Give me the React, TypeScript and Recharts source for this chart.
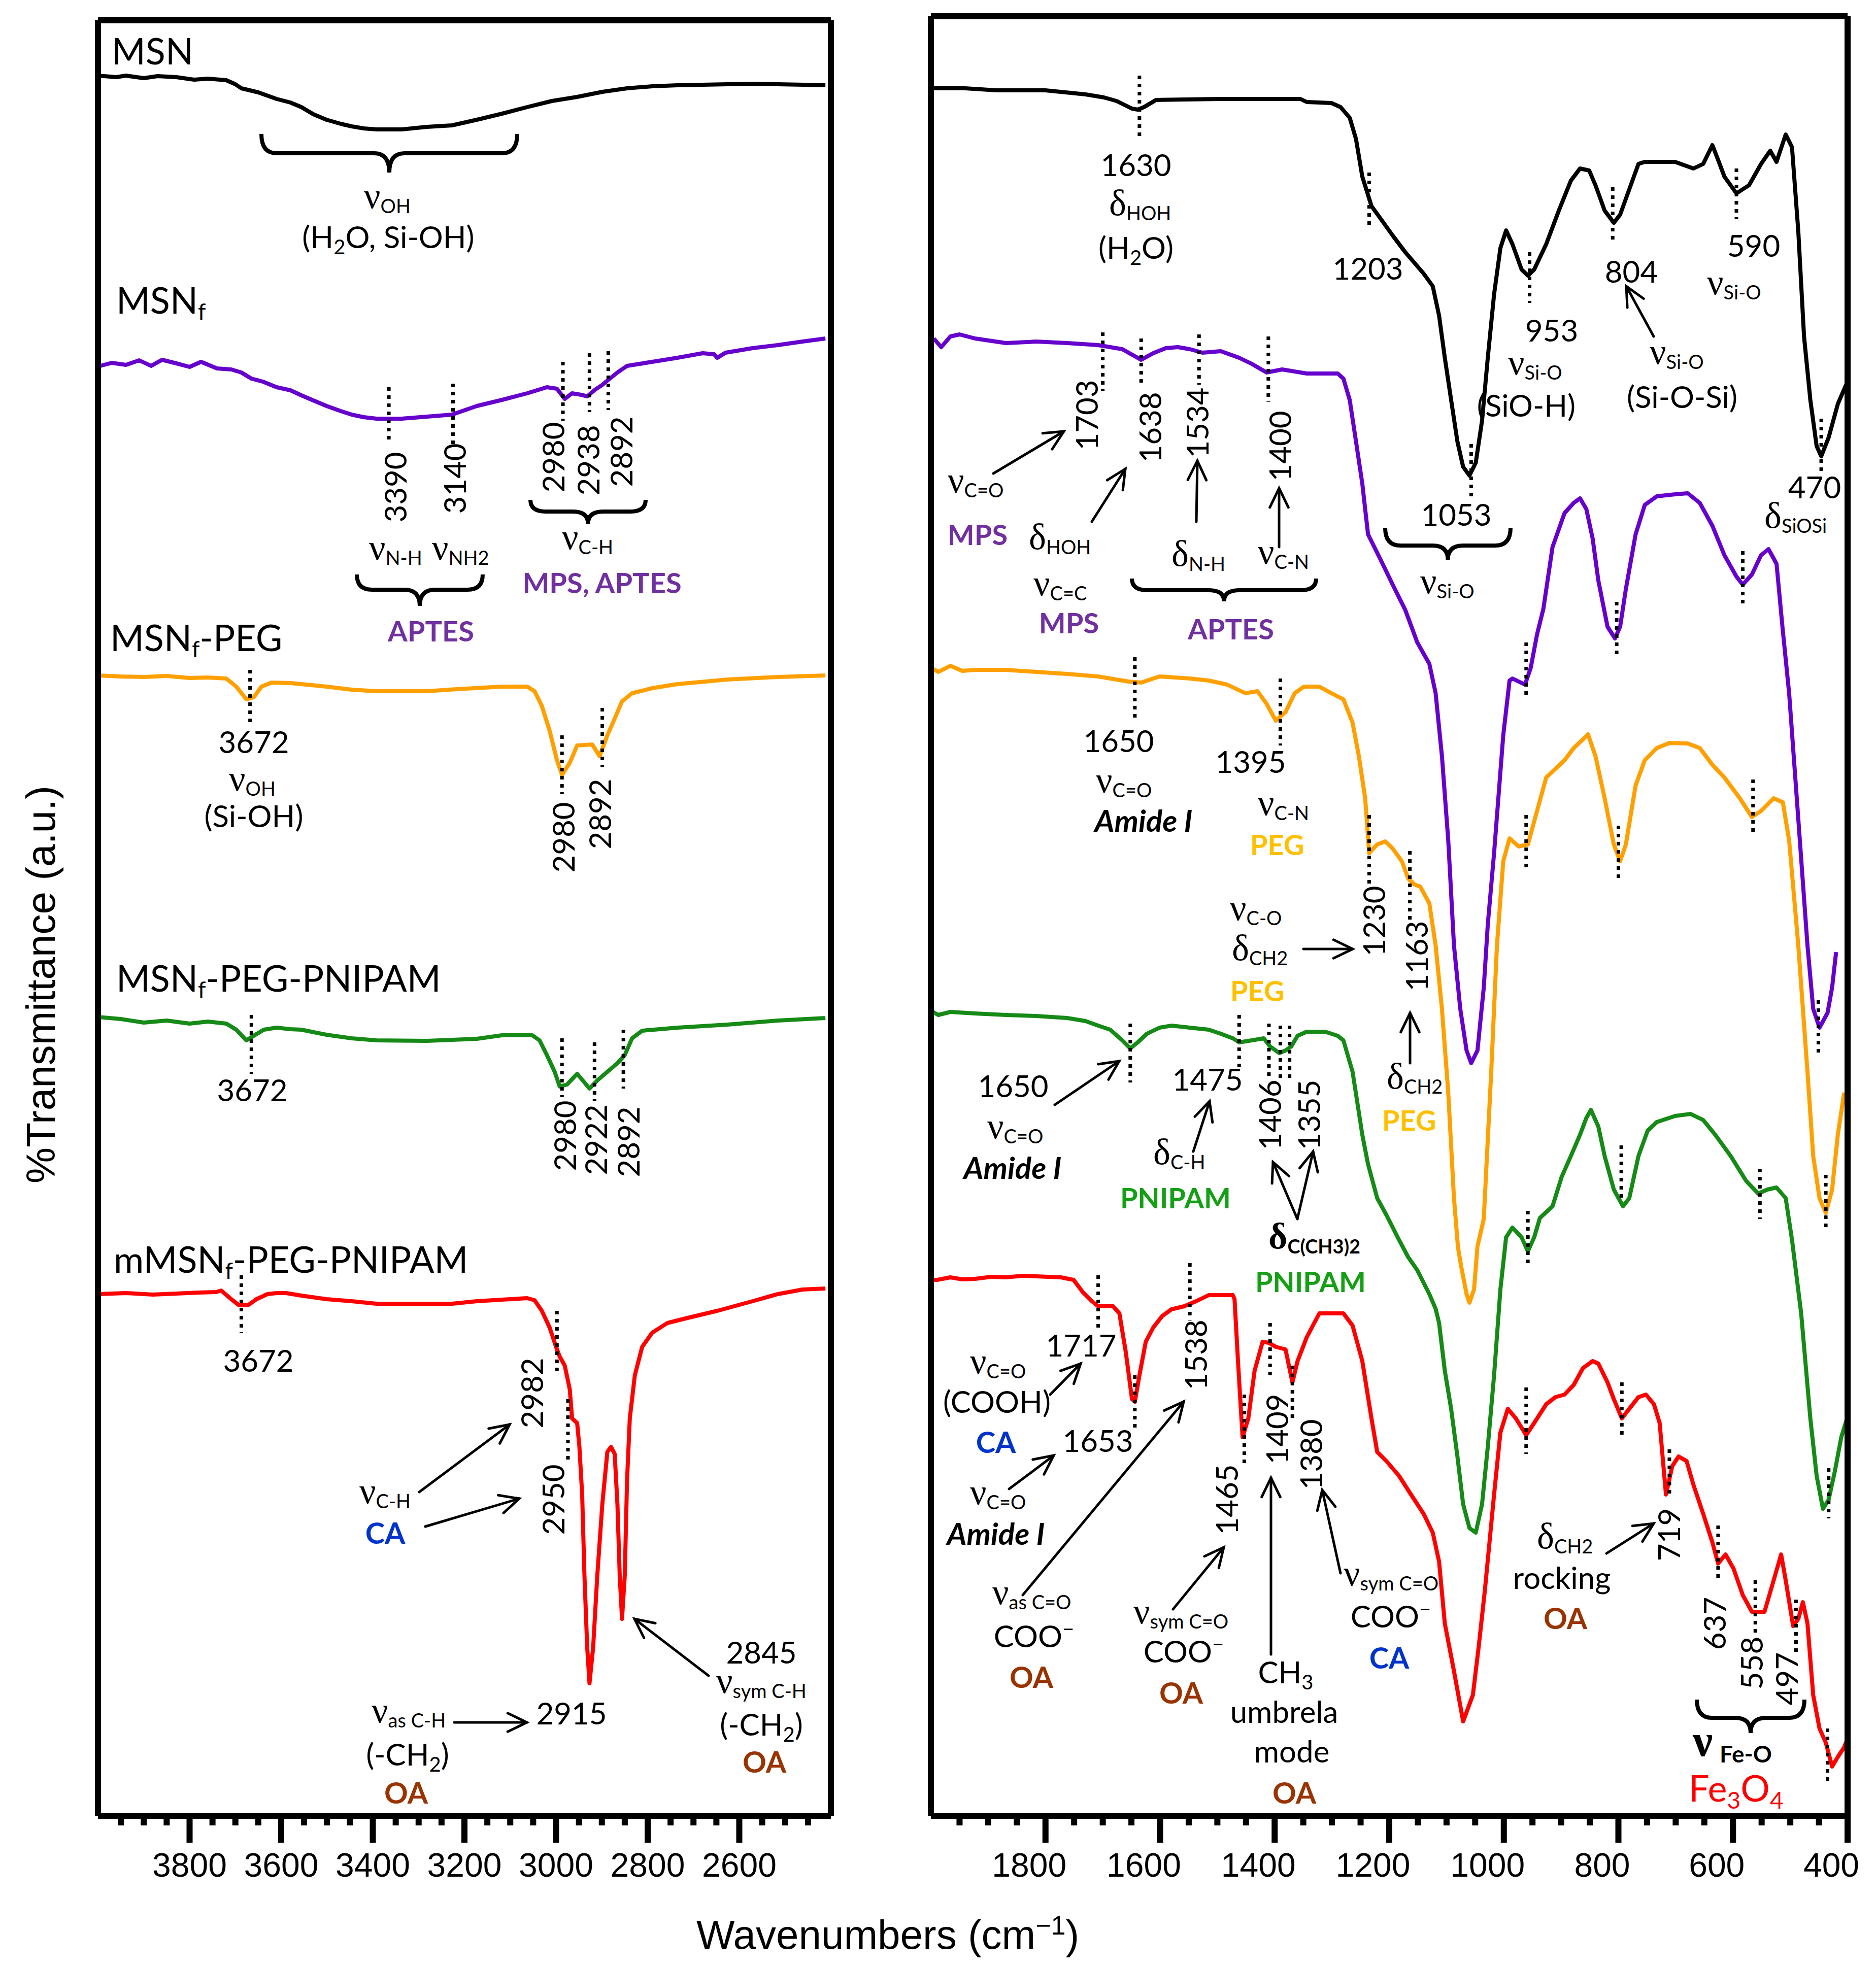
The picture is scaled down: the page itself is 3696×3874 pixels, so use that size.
import React from "react";
import { LineChart, Line, XAxis, YAxis, ReferenceLine } from "recharts";

const SANS = "Lato, 'Open Sans', sans-serif";
const ARIAL = "'Liberation Sans', Arial, sans-serif";
const SERIF = "'Liberation Serif', 'DejaVu Serif', serif";

// spectra, [wavenumber, %T in arbitrary offset units]
// high wavenumber panel
const msnHi = [[4000,342.9],[3960,342.6],[3939,342.9],[3900,342.4],[3870,342.8],[3829,342.6],[3790,342.1],[3760,342.3],[3720,342.0],[3700,341.2],[3687,340.4],[3650,339.6],[3610,338.3],[3580,337.6],[3556,336.7],[3530,335.3],[3501,334.2],[3470,333.4],[3446,332.9],[3420,332.5],[3392,332.3],[3337,332.3],[3282,332.8],[3227,333.1],[3173,334.2],[3118,335.4],[3063,336.7],[3009,337.9],[2954,338.7],[2899,339.7],[2845,340.4],[2790,340.8],[2735,341.0],[2680,341.1],[2626,341.2],[2570,341.3],[2516,341.2],[2460,341.1],[2412,341.0]];
const msnfHi = [[3995,285.7],[3970,286.3],[3939,285.9],[3910,286.8],[3884,285.7],[3860,286.9],[3829,286.2],[3800,285.5],[3775,286.5],[3740,285.2],[3709,285.0],[3687,284.4],[3665,283.2],[3640,282.6],[3610,281.5],[3580,280.9],[3556,279.9],[3530,278.9],[3501,277.8],[3470,276.8],[3446,276.1],[3420,275.6],[3392,275.3],[3337,275.3],[3282,275.7],[3227,276.1],[3173,277.8],[3118,279.0],[3063,280.3],[3020,281.5],[2998,281.2],[2981,279.2],[2965,280.3],[2945,280.0],[2932,279.7],[2915,281.0],[2900,281.9],[2888,282.8],[2866,284.4],[2845,285.7],[2790,286.5],[2735,287.3],[2680,288.2],[2655,288.0],[2648,287.3],[2630,288.3],[2571,289.2],[2516,289.8],[2462,290.5],[2412,291.1]];
const pegHi = [[4000,224.7],[3950,224.5],[3900,224.4],[3850,224.6],[3800,224.2],[3760,224.3],[3720,224.1],[3698,222.5],[3676,220.0],[3660,220.4],[3643,222.5],[3621,223.3],[3580,223.2],[3556,223.0],[3501,222.5],[3446,221.9],[3392,221.6],[3282,221.6],[3217,222.0],[3118,222.5],[3063,222.5],[3047,221.6],[3031,218.7],[3014,213.8],[2998,208.0],[2987,205.1],[2970,207.5],[2954,210.9],[2921,211.1],[2905,208.8],[2888,212.9],[2872,216.2],[2856,219.6],[2834,221.2],[2790,222.2],[2735,223.0],[2626,223.9],[2516,224.4],[2412,224.7]];
const pnipamHi = [[4000,157.4],[3950,157.0],[3900,156.3],[3850,156.7],[3800,156.1],[3760,156.5],[3720,156.1],[3698,154.9],[3676,152.8],[3660,153.7],[3638,154.9],[3610,155.3],[3580,155.0],[3556,154.9],[3501,153.9],[3446,153.2],[3392,152.8],[3282,152.7],[3173,153.1],[3118,153.8],[3052,153.8],[3036,152.8],[3020,149.9],[3003,146.6],[2992,143.7],[2976,144.1],[2954,146.2],[2938,144.5],[2927,143.3],[2910,144.9],[2888,146.6],[2866,148.3],[2850,149.9],[2834,153.2],[2812,154.7],[2735,155.3],[2626,155.9],[2516,156.7],[2412,157.2]];
const magHi = [[4000,102.8],[3939,103.0],[3880,102.7],[3829,102.9],[3780,103.1],[3742,103.2],[3731,103.5],[3709,101.8],[3692,100.6],[3671,100.7],[3654,101.8],[3630,102.8],[3610,103.0],[3589,103.0],[3556,102.5],[3501,101.8],[3446,101.4],[3392,100.9],[3227,100.9],[3173,101.4],[3063,102.0],[3047,101.6],[3031,99.5],[3014,96.2],[3000,92.4],[2992,90.5],[2981,88.7],[2970,84.0],[2965,78.3],[2954,77.4],[2949,72.7],[2943,63.3],[2938,47.3],[2932,33.2],[2927,26.1],[2919,33.2],[2910,47.3],[2899,61.4],[2888,71.7],[2880,72.7],[2872,71.3],[2866,61.4],[2861,47.3],[2856,38.8],[2850,47.3],[2845,66.1],[2839,78.3],[2828,86.8],[2812,92.4],[2790,95.2],[2757,97.1],[2713,98.1],[2648,99.5],[2571,101.4],[2516,102.8],[2462,103.7],[2412,103.9]];

// low wavenumber panel
const msnLo = [[2000,340.4],[1940,340.4],[1885,340.0],[1800,340.0],[1730,339.2],[1698,338.6],[1676,337.9],[1649,336.4],[1639,336.2],[1628,336.7],[1607,338.1],[1494,338.3],[1355,338.3],[1344,337.7],[1301,337.5],[1285,336.7],[1269,334.6],[1258,330.4],[1247,323.0],[1231,317.2],[1215,314.7],[1194,311.4],[1172,308.1],[1156,306.0],[1140,303.9],[1124,301.4],[1113,295.6],[1103,287.3],[1092,279.0],[1081,270.8],[1071,265.8],[1060,264.1],[1049,266.6],[1038,274.9],[1028,287.3],[1017,299.8],[1006,308.9],[996,312.4],[985,309.7],[969,304.7],[958,303.5],[947,304.7],[926,309.7],[904,316.3],[883,322.2],[867,324.6],[851,324.2],[840,321.3],[824,316.3],[808,313.9],[797,315.5],[781,320.5],[765,325.5],[754,325.9],[701,325.9],[669,324.6],[652,325.5],[636,329.2],[626,326.3],[615,323.0],[594,319.7],[572,321.3],[551,325.5],[535,328.1],[524,325.9],[508,331.3],[497,328.8],[486,312.2],[476,291.5],[465,279.0],[454,269.9],[446,267.9],[433,271.6],[417,278.2],[401,282.4]];
const msnfLo = [[1995,291.1],[1982,289.4],[1966,291.5],[1950,291.9],[1923,291.1],[1869,290.2],[1816,290.5],[1762,290.2],[1708,289.8],[1666,289.0],[1633,286.9],[1612,288.2],[1590,289.2],[1569,289.4],[1548,289.0],[1526,288.3],[1494,288.6],[1462,287.3],[1440,286.1],[1414,284.4],[1387,285.0],[1344,284.2],[1290,284.2],[1280,283.2],[1269,279.0],[1258,270.8],[1247,262.5],[1237,252.5],[1215,247.5],[1194,242.6],[1172,237.6],[1151,231.2],[1130,227.0],[1119,221.2],[1108,208.8],[1097,192.2],[1087,171.5],[1076,159.0],[1065,150.8],[1057,148.3],[1046,150.8],[1035,163.2],[1028,175.6],[1017,189.7],[1001,212.9],[990,223.7],[985,224.1],[963,222.9],[953,226.2],[942,232.8],[931,237.8],[915,250.0],[894,256.7],[878,258.7],[867,259.6],[856,257.5],[845,251.7],[835,243.4],[819,234.3],[806,232.0],[797,234.3],[787,241.7],[770,252.5],[754,258.3],[733,260.0],[701,260.4],[679,260.6],[658,258.7],[636,254.2],[615,248.4],[594,244.2],[583,242.6],[567,244.6],[551,248.4],[538,249.6],[524,246.7],[513,233.5],[502,221.2],[486,196.4],[470,171.5],[460,159.0],[449,155.3],[435,158.2],[427,163.2],[420,170.2]];
const pegLo = [[2000,226.2],[1987,225.4],[1966,226.6],[1945,225.6],[1923,225.8],[1869,225.8],[1816,225.4],[1762,225.0],[1708,224.5],[1655,223.5],[1633,223.3],[1601,224.5],[1548,224.1],[1515,223.7],[1483,222.9],[1451,221.2],[1430,221.6],[1414,219.1],[1398,215.8],[1381,217.5],[1365,221.2],[1349,222.5],[1322,222.5],[1301,221.2],[1280,220.0],[1264,215.4],[1253,208.8],[1242,200.5],[1235,189.7],[1221,191.4],[1207,192.0],[1194,190.6],[1178,188.1],[1167,184.7],[1156,183.5],[1146,183.1],[1130,179.8],[1119,171.5],[1108,159.0],[1097,142.5],[1087,121.7],[1080,112.0],[1074,108.0],[1065,102.8],[1060,101.1],[1052,103.7],[1046,112.2],[1035,117.6],[1022,146.6],[1012,171.5],[1001,188.1],[990,192.6],[974,191.0],[958,191.4],[942,198.0],[926,204.6],[910,206.3],[894,208.0],[878,210.4],[862,212.1],[853,213.1],[840,208.8],[824,200.5],[808,191.4],[797,188.1],[787,191.4],[770,203.0],[754,208.0],[733,210.4],[711,211.4],[679,211.3],[658,210.4],[636,207.1],[615,204.6],[588,200.5],[567,196.8],[551,198.0],[529,200.5],[513,199.7],[502,192.2],[486,171.5],[470,146.6],[460,130.0],[449,121.7],[438,118.8],[427,123.4],[417,134.2],[406,142.5]];
const pnipamLo = [[2000,158.6],[1987,157.8],[1966,158.4],[1923,158.1],[1869,157.8],[1816,157.6],[1762,157.2],[1730,156.6],[1708,155.7],[1687,154.9],[1666,152.8],[1652,151.2],[1639,152.4],[1623,154.1],[1601,155.3],[1580,155.7],[1548,155.3],[1515,154.9],[1494,154.1],[1473,153.2],[1462,152.4],[1440,152.8],[1419,153.2],[1408,151.6],[1392,150.3],[1381,150.8],[1371,151.6],[1360,153.7],[1344,154.5],[1312,154.5],[1290,153.7],[1280,152.8],[1264,146.6],[1247,134.2],[1237,128.4],[1221,121.7],[1205,118.4],[1183,113.5],[1167,110.1],[1151,107.5],[1130,102.8],[1119,99.9],[1113,97.1],[1103,87.7],[1092,80.2],[1081,70.8],[1071,61.4],[1060,56.7],[1049,55.8],[1038,61.4],[1028,72.7],[1017,86.8],[1006,103.7],[996,114.0],[985,115.9],[969,114.0],[958,111.2],[947,114.0],[937,117.8],[915,120.1],[899,125.9],[883,130.0],[867,134.2],[856,137.5],[848,139.1],[835,135.8],[824,130.0],[808,123.4],[792,120.1],[781,121.7],[765,130.0],[749,135.0],[733,136.7],[701,137.9],[674,138.3],[652,137.1],[631,134.2],[604,130.0],[577,125.1],[556,122.6],[540,123.4],[524,123.8],[508,121.7],[497,113.5],[481,99.0],[465,78.3],[454,67.0],[443,60.5],[433,62.3],[422,68.0],[411,74.6],[401,78.3]];
const magLo = [[2000,105.6],[1989,105.6],[1966,106.1],[1945,105.7],[1923,105.8],[1895,106.2],[1869,106.1],[1840,106.4],[1816,106.3],[1773,106.1],[1751,105.6],[1735,103.2],[1719,101.4],[1708,100.4],[1682,100.4],[1671,99.0],[1660,91.5],[1649,82.1],[1644,81.6],[1636,86.8],[1625,93.4],[1612,96.2],[1596,98.5],[1580,99.8],[1558,100.4],[1537,101.4],[1515,102.6],[1473,102.6],[1470,101.8],[1464,89.6],[1456,74.6],[1446,78.3],[1435,87.7],[1421,93.4],[1410,93.2],[1398,92.4],[1381,91.9],[1369,85.4],[1360,89.6],[1344,94.3],[1322,99.0],[1280,99.0],[1264,96.6],[1247,89.6],[1231,78.3],[1221,71.7],[1205,69.9],[1183,67.0],[1162,63.3],[1140,59.5],[1124,55.8],[1113,50.1],[1103,37.9],[1087,28.5],[1071,18.6],[1054,23.8],[1044,33.2],[1033,44.5],[1017,63.3],[1006,75.5],[993,80.2],[979,78.3],[961,75.0],[947,77.4],[926,81.1],[910,82.5],[894,83.0],[878,84.9],[862,88.2],[845,89.6],[835,89.1],[819,85.4],[808,82.1],[794,78.3],[781,80.2],[765,82.5],[752,83.0],[738,81.1],[728,77.4],[717,63.3],[706,68.9],[695,70.8],[681,69.9],[669,65.2],[652,59.5],[636,53.9],[626,49.7],[613,51.5],[599,48.7],[583,43.5],[567,40.2],[545,40.2],[529,46.4],[516,51.5],[508,46.4],[495,37.4],[486,38.8],[478,42.1],[470,37.9],[460,23.8],[449,17.2],[438,14.4],[427,9.7],[417,11.6],[406,13.5],[400,15.2]];

// dotted peak markers: [wavenumber, top, bottom]
const marksHi = [[3365,281.5,270.3],[3225,282.2,270.3],[2985,286.5,274.9],[2927,288.2,276.6],[2886,288.6,277.0],[3668,225.8,215.4],[2987,212.9,201.3],[2899,218.3,206.7],[3665,157.8,146.2],[2987,153.2,141.6],[2916,152.4,140.8],[2853,154.9,143.3],[3687,106.5,95.2],[2998,99.5,87.7],[2974,82.1,69.9]];
const marksLo = [[1636,342.9,330.9],[1235,323.8,313.0],[1057,270.3,260.0],[955,308.1,298.1],[810,320.9,310.5],[594,324.6,314.7],[446,275.3,265.0],[1700,292.3,280.7],[1633,291.1,282.4],[1532,291.9,282.0],[1411,291.5,278.6],[961,231.2,220.4],[803,239.2,228.7],[583,249.2,238.8],[451,160.7,150.3],[1644,228.3,216.2],[1390,224.1,210.9],[1235,197.2,183.1],[1164,190.1,176.5],[961,197.2,186.4],[800,195.1,184.7],[565,204.2,193.9],[438,126.3,115.5],[1652,156.1,144.5],[1462,157.8,147.0],[1410,156.1,145.4],[1390,155.7,145.4],[1374,155.7,145.4],[958,119.2,108.9],[795,132.1,121.3],[553,127.5,117.6],[433,68.5,58.6],[1708,106.5,96.2],[1644,86.8,76.4],[1548,108.9,97.6],[1453,83.0,68.9],[1408,97.1,86.8],[1369,88.7,78.3],[961,84.4,71.3],[794,85.4,75.0],[711,72.2,63.3],[626,57.2,46.8],[561,46.4,36.0],[490,42.6,31.8],[435,17.2,6.9]];

const ticksHi = [3950,3900,3850,3800,3750,3700,3650,3600,3550,3500,3450,3400,3350,3300,3250,3200,3150,3100,3050,3000,2950,2900,2850,2800,2750,2700,2650,2600,2550,2500,2450];
const ticksLo = [1950,1900,1850,1800,1750,1700,1650,1600,1550,1500,1450,1400,1350,1300,1250,1200,1150,1100,1050,1000,950,900,850,800,750,700,650,600,550,500,450,400];

const BLACK = "#000000", PURPLE = "#6600cc", ORANGE = "#ffa000", GREEN = "#168a16", RED = "#ff0000";

const rows = (pts: number[][]) => pts.map(([w, t]) => ({ w, t }));

const AxisTick = ({ x, y, payload, dx }: any) => {
  const v = payload.value;
  const major = v % 200 === 0;
  return (
    <g>
      <line x1={x} x2={x} y1={y} y2={y + (major ? 53 : 19)} stroke="#000" strokeWidth={12} />
      {major && (
        <text x={x + dx} y={y + 120} textAnchor="middle" fontFamily={ARIAL} fontSize={66} fill="#000">{v}</text>
      )}
    </g>
  );
};

const frame = { stroke: "#000", strokeWidth: 12 };

const Panel = ({ box, domain, ymax, series, marks, ticks, dx }: any) => {
  // plot area lands exactly on box: margin + axis sizes add up to 20 px on top/left
  const m = { top: 19, right: 39, bottom: 10, left: 19 };
  const w = box.x1 - box.x0 + 60;
  const h = box.y1 - box.y0 + 160;
  return (
    <div style={{ position: "absolute", left: box.x0 - 20, top: box.y0 - 20 }}>
      <LineChart width={w} height={h} margin={m}>
        <XAxis xAxisId="b" dataKey="w" type="number" domain={domain} reversed allowDataOverflow
          ticks={ticks} interval={0} tickSize={0} tickMargin={0} tickLine={false} height={130}
          axisLine={frame} tick={(p: any) => <AxisTick {...p} dx={dx} />} />
        <XAxis xAxisId="t" orientation="top" type="number" domain={domain} reversed allowDataOverflow
          height={1} tick={false} tickLine={false} axisLine={frame} />
        <YAxis yAxisId="l" type="number" domain={[0, ymax]} allowDataOverflow width={1} tick={false} tickLine={false} axisLine={frame} />
        <YAxis yAxisId="r" orientation="right" type="number" domain={[0, ymax]} allowDataOverflow width={1} tick={false} tickLine={false} axisLine={frame} />
        {series.map((s: any) => (
          <Line key={s.name} name={s.name} xAxisId="b" yAxisId="l" data={rows(s.pts)} dataKey="t" type="linear"
            stroke={s.color} strokeWidth={8} dot={false} activeDot={false} strokeLinejoin="round" isAnimationActive={false} />
        ))}
        {marks.map((k: number[], i: number) => (
          <ReferenceLine key={i} xAxisId="b" yAxisId="l" segment={[{ x: k[0], y: k[1] }, { x: k[0], y: k[2] }]}
            stroke="#000" strokeWidth={7} strokeDasharray="7 9" />
        ))}
      </LineChart>
    </div>
  );
};

// annotation helpers
const T = ({ x, y, c = "#000", s = 60, a = "middle", w = 400, i = false, f = SANS, children }: any) => (
  <text x={x} y={y} fill={c} fontSize={s} textAnchor={a} fontWeight={w} fontStyle={i ? "italic" : "normal"} fontFamily={f}>{children}</text>
);
const R = ({ x, y, children }: any) => (
  <text transform={`translate(${x},${y}) rotate(-90)`} textAnchor="middle" fontFamily={SANS} fontSize={60} fill="#000">{children}</text>
);
const Gk = ({ x, y, g, sub, s = 72, ss = 38, w = 400 }: any) => (
  <text x={x} y={y} fontFamily={SANS} fontWeight={w} fill="#000">
    <tspan fontFamily={SERIF} fontSize={s}>{g}</tspan>
    <tspan fontSize={ss} dy={10}>{sub}</tspan>
  </text>
);
const Arrow = ({ x1, y1, x2, y2 }: any) => {
  const a = Math.atan2(y2 - y1, x2 - x1);
  const L = 42, sp = 0.45;
  const p1 = [x2 - L * Math.cos(a - sp), y2 - L * Math.sin(a - sp)];
  const p2 = [x2 - L * Math.cos(a + sp), y2 - L * Math.sin(a + sp)];
  return (
    <g stroke="#000" strokeWidth={5} fill="none" strokeLinecap="round">
      <line x1={x1} y1={y1} x2={x2} y2={y2} />
      <polyline points={`${p1[0]},${p1[1]} ${x2},${y2} ${p2[0]},${p2[1]}`} />
    </g>
  );
};
const Brace = ({ x1, x2, y, h, tip }: any) => {
  const cx = (x1 + x2) / 2, r = 30, yh = y + h;
  return (
    <path fill="none" stroke="#000" strokeWidth={8}
      d={`M${x1},${y} Q${x1},${yh} ${x1 + r},${yh} L${cx - r},${yh} Q${cx},${yh} ${cx},${tip} Q${cx},${yh} ${cx + r},${yh} L${x2 - r},${yh} Q${x2},${yh} ${x2},${y}`} />
  );
};
const Sub = ({ children, d = 12, s = 42 }: any) => <tspan dy={d} fontSize={s}>{children}</tspan>;
const Back = ({ children, d = 12 }: any) => <tspan dy={-d}>{children}</tspan>;

const C_MPS = "#7030a0", C_PEG = "#ffc000", C_PNI = "#14a014", C_CA = "#0033cc", C_OA = "#993300";

const Notes = () => (
  <svg width={3696} height={3874} style={{ position: "absolute", left: 0, top: 0, pointerEvents: "none" }}>
    {/* sample names */}
    <T x={220} y={127} s={72} a="start">MSN</T>
    <T x={229} y={618} s={72} a="start">MSN<Sub s={44}>f</Sub></T>
    <T x={217} y={1283} s={72} a="start">MSN<Sub s={44}>f</Sub><Back>-PEG</Back></T>
    <T x={229} y={1954} s={72} a="start">MSN<Sub s={44}>f</Sub><Back>-PEG-PNIPAM</Back></T>
    <T x={224} y={2508} s={72} a="start">mMSN<Sub s={44}>f</Sub><Back>-PEG-PNIPAM</Back></T>

    {/* left panel notes */}
    <Brace x1={515} x2={1019} y={264} h={38} tip={340} />
    <Gk x={717} y={410} g="ν" sub="OH" />
    <T x={765} y={489}>(H<Sub s={40}>2</Sub><Back>O, Si-OH)</Back></T>
    <R x={801} y={960}>3390</R>
    <R x={918} y={943}>3140</R>
    <R x={1112} y={901}>2980</R>
    <R x={1181} y={907}>2938</R>
    <R x={1246} y={890}>2892</R>
    <Gk x={727} y={1103} g="ν" sub="N-H" />
    <Gk x={851} y={1103} g="ν" sub="NH2" />
    <Brace x1={703} x2={951} y={1132} h={30} tip={1194} />
    <T x={849} y={1264} s={56} w={700} c={C_MPS}>APTES</T>
    <Brace x1={1045} x2={1272} y={985} h={23} tip={1032} />
    <Gk x={1107} y={1082} g="ν" sub="C-H" />
    <T x={1186} y={1169} s={56} w={700} c={C_MPS}>MPS, APTES</T>

    <T x={500} y={1484}>3672</T>
    <Gk x={451} y={1558} g="ν" sub="OH" />
    <T x={500} y={1630}>(Si-OH)</T>
    <R x={1132} y={1650}>2980</R>
    <R x={1204} y={1604}>2892</R>

    <T x={497} y={2170}>3672</T>
    <R x={1135} y={2238}>2980</R>
    <R x={1196} y={2246}>2922</R>
    <R x={1260} y={2250}>2892</R>

    <T x={509} y={2703}>3672</T>
    <R x={1070} y={2745}>2982</R>
    <R x={1112} y={2955}>2950</R>
    <Arrow x1={826} y1={2940} x2={1004} y2={2807} />
    <Arrow x1={838} y1={3008} x2={1023} y2={2953} />
    <Gk x={708} y={2962} g="ν" sub="C-H" />
    <T x={759} y={3042} s={58} w={700} c={C_CA}>CA</T>
    <T x={1500} y={3278}>2845</T>
    <Gk x={1411} y={3336} g="ν" sub="sym C-H" />
    <T x={1500} y={3420}>(-CH<Sub s={40}>2</Sub><Back>)</Back></T>
    <T x={1506} y={3493} s={58} w={700} c={C_OA}>OA</T>
    <Arrow x1={1396} y1={3302} x2={1250} y2={3190} />
    <T x={1126} y={3398}>2915</T>
    <Gk x={732} y={3394} g="ν" sub="as C-H" />
    <Arrow x1={895} y1={3394} x2={1038} y2={3394} />
    <T x={803} y={3479}>(-CH<Sub s={40}>2</Sub><Back>)</Back></T>
    <T x={800} y={3554} s={58} w={700} c={C_OA}>OA</T>

    {/* right panel notes: MSN */}
    <T x={2238} y={347}>1630</T>
    <Gk x={2185} y={424} g="δ" sub="HOH" />
    <T x={2238} y={510}>(H<Sub s={40}>2</Sub><Back>O)</Back></T>
    <T x={2695} y={551}>1203</T>
    <T x={3057} y={673}>953</T>
    <Gk x={2971} y={738} g="ν" sub="Si-O" />
    <T x={3007} y={821}>(SiO-H)</T>
    <T x={3214} y={557}>804</T>
    <Arrow x1={3258} y1={663} x2={3204} y2={564} />
    <Gk x={3250} y={717} g="ν" sub="Si-O" />
    <T x={3314} y={804}>(Si-O-Si)</T>
    <T x={3455} y={506}>590</T>
    <Gk x={3363} y={580} g="ν" sub="Si-O" />
    <T x={3575} y={982}>470</T>
    <Gk x={3476} y={1040} g="δ" sub="SiOSi" />
    <T x={2869} y={1036}>1053</T>
    <Brace x1={2729} x2={2976} y={1040} h={35} tip={1103} />
    <Gk x={2798} y={1169} g="ν" sub="Si-O" />

    {/* MSNf */}
    <R x={2163} y={818}>1703</R>
    <R x={2288} y={842}>1638</R>
    <R x={2381} y={833}>1534</R>
    <R x={2544} y={879}>1400</R>
    <Arrow x1={1957} y1={933} x2={2096} y2={850} />
    <Gk x={1867} y={970} g="ν" sub="C=O" />
    <T x={1926} y={1074} s={56} w={700} c={C_MPS}>MPS</T>
    <Arrow x1={2151} y1={1028} x2={2217} y2={924} />
    <Gk x={2027} y={1082} g="δ" sub="HOH" />
    <Gk x={2036} y={1173} g="ν" sub="C=C" />
    <T x={2106} y={1248} s={56} w={700} c={C_MPS}>MPS</T>
    <Arrow x1={2357} y1={1028} x2={2359} y2={908} />
    <Gk x={2308} y={1115} g="δ" sub="N-H" />
    <Arrow x1={2520} y1={1078} x2={2520} y2={962} />
    <Gk x={2478} y={1111} g="ν" sub="C-N" />
    <Brace x1={2230} x2={2593} y={1140} h={23} tip={1185} />
    <T x={2425} y={1260} s={56} w={700} c={C_MPS}>APTES</T>

    {/* MSNf-PEG */}
    <T x={2204} y={1482}>1650</T>
    <Gk x={2159} y={1561} g="ν" sub="C=O" />
    <T x={2253} y={1639} s={60} w={700} i>Amide I</T>
    <T x={2464} y={1523}>1395</T>
    <Gk x={2478} y={1606} g="ν" sub="C-N" />
    <T x={2516} y={1685} s={56} w={700} c={C_PEG}>PEG</T>
    <R x={2729} y={1815}>1230</R>
    <R x={2813} y={1884}>1163</R>
    <Gk x={2423} y={1813} g="ν" sub="C-O" />
    <Gk x={2427} y={1892} g="δ" sub="CH2" />
    <Arrow x1={2568} y1={1870} x2={2665} y2={1870} />
    <T x={2477} y={1973} s={56} w={700} c={C_PEG}>PEG</T>
    <Arrow x1={2778} y1={2095} x2={2778} y2={1996} />
    <Gk x={2732} y={2145} g="δ" sub="CH2" />
    <T x={2776} y={2228} s={56} w={700} c={C_PEG}>PEG</T>

    {/* MSNf-PEG-PNIPAM */}
    <T x={1996} y={2162}>1650</T>
    <Arrow x1={2078} y1={2177} x2={2205} y2={2091} />
    <Gk x={1945} y={2243} g="ν" sub="C=O" />
    <T x={1995} y={2323} s={60} w={700} i>Amide I</T>
    <T x={2379} y={2149}>1475</T>
    <Arrow x1={2351} y1={2269} x2={2383} y2={2170} />
    <Gk x={2272} y={2294} g="δ" sub="C-H" />
    <T x={2316} y={2381} s={56} w={700} c={C_PNI}>PNIPAM</T>
    <R x={2524} y={2197}>1406</R>
    <R x={2601} y={2197}>1355</R>
    <Arrow x1={2556} y1={2402} x2={2508} y2={2290} />
    <Arrow x1={2556} y1={2402} x2={2587} y2={2269} />
    <Gk x={2499} y={2460} g="δ" sub="C(CH3)2" w={700} />
    <T x={2582} y={2546} s={56} w={700} c={C_PNI}>PNIPAM</T>

    {/* mMSNf-PEG-PNIPAM */}
    <T x={2130} y={2673}>1717</T>
    <Gk x={1911} y={2706} g="ν" sub="C=O" />
    <T x={1964} y={2784}>(COOH)</T>
    <Arrow x1={2069} y1={2748} x2={2129} y2={2687} />
    <T x={1962} y={2863} s={58} w={700} c={C_CA}>CA</T>
    <T x={2163} y={2861}>1653</T>
    <Arrow x1={1988} y1={2934} x2={2076} y2={2868} />
    <Gk x={1911} y={2964} g="ν" sub="C=O" />
    <T x={1962} y={3044} s={60} w={700} i>Amide I</T>
    <R x={2378} y={2670}>1538</R>
    <Arrow x1={2015} y1={3143} x2={2332} y2={2762} />
    <Gk x={1955} y={3161} g="ν" sub="as C=O" />
    <T x={2037} y={3246}>COO<tspan dy={-22} fontSize={40}>−</tspan></T>
    <T x={2032} y={3326} s={58} w={700} c={C_OA}>OA</T>
    <R x={2439} y={2955}>1465</R>
    <Arrow x1={2311} y1={3171} x2={2411} y2={3049} />
    <Gk x={2233} y={3199} g="ν" sub="sym C=O" />
    <T x={2332} y={3276}>COO<tspan dy={-22} fontSize={40}>−</tspan></T>
    <T x={2327} y={3357} s={58} w={700} c={C_OA}>OA</T>
    <R x={2538} y={2816}>1409</R>
    <R x={2605} y={2866}>1380</R>
    <Arrow x1={2504} y1={3260} x2={2504} y2={2912} />
    <T x={2533} y={3317}>CH<Sub s={40}>3</Sub></T>
    <T x={2530} y={3395}>umbrela</T>
    <T x={2545} y={3473}>mode</T>
    <T x={2550} y={3554} s={58} w={700} c={C_OA}>OA</T>
    <Arrow x1={2641} y1={3100} x2={2605} y2={2936} />
    <Gk x={2647} y={3124} g="ν" sub="sym C=O" />
    <T x={2740} y={3207}>COO<tspan dy={-22} fontSize={40}>−</tspan></T>
    <T x={2737} y={3288} s={58} w={700} c={C_CA}>CA</T>
    <R x={3310} y={3024}>719</R>
    <Arrow x1={3165} y1={3061} x2={3258} y2={3002} />
    <Gk x={3028} y={3051} g="δ" sub="CH2" />
    <T x={3077} y={3131}>rocking</T>
    <T x={3084} y={3210} s={58} w={700} c={C_OA}>OA</T>
    <R x={3400} y={3199}>637</R>
    <R x={3473} y={3277}>558</R>
    <R x={3542} y={3308}>497</R>
    <Brace x1={3343} x2={3555} y={3349} h={36} tip={3415} />
    <text x={3335} y={3460} fontFamily={SERIF} fontWeight={700} fontSize={88} fill="#000">ν</text>
    <T x={3388} y={3473} s={46} w={700} a="start">Fe-O</T>
    <T x={3327} y={3550} s={72} a="start" c={RED}>Fe<Sub s={46} d={14}>3</Sub><Back d={14}>O</Back><Sub s={46} d={14}>4</Sub></T>

    {/* axis titles */}
    <T x={1749} y={3840} s={80} f={ARIAL}>Wavenumbers  (cm<tspan dy={-28} fontSize={52}>−1</tspan><tspan dy={28}>)</tspan></T>
    <text transform="translate(108,1940) rotate(-90)" textAnchor="middle" fontFamily={ARIAL} fontSize={80} fill="#000">%Transmittance  (a.u.)</text>
  </svg>
);

const hiSeries = [
  { name: "MSN", color: BLACK, pts: msnHi },
  { name: "MSNf", color: PURPLE, pts: msnfHi },
  { name: "MSNf-PEG", color: ORANGE, pts: pegHi },
  { name: "MSNf-PEG-PNIPAM", color: GREEN, pts: pnipamHi },
  { name: "mMSNf-PEG-PNIPAM", color: RED, pts: magHi },
];
const loSeries = [
  { name: "MSN", color: BLACK, pts: msnLo },
  { name: "MSNf", color: PURPLE, pts: msnfLo },
  { name: "MSNf-PEG", color: ORANGE, pts: pegLo },
  { name: "MSNf-PEG-PNIPAM", color: GREEN, pts: pnipamLo },
  { name: "mMSNf-PEG-PNIPAM", color: RED, pts: magLo },
];

export default function App() {
  return (
    <div style={{ position: "absolute", left: 0, top: 0, width: 3696, height: 3874, background: "#fff", overflow: "hidden" }}>
      <Panel box={{ x0: 193, x1: 1637, y0: 40, y1: 3578 }} domain={[2400, 4000]} ymax={353.8}
        series={hiSeries} marks={marksHi} ticks={ticksHi} dx={0} />
      <Panel box={{ x0: 1834, x1: 3640, y0: 32, y1: 3578 }} domain={[400, 2000]} ymax={354.6}
        series={loSeries} marks={marksLo} ticks={ticksLo} dx={-32} />
      <Notes />
    </div>
  );
}
